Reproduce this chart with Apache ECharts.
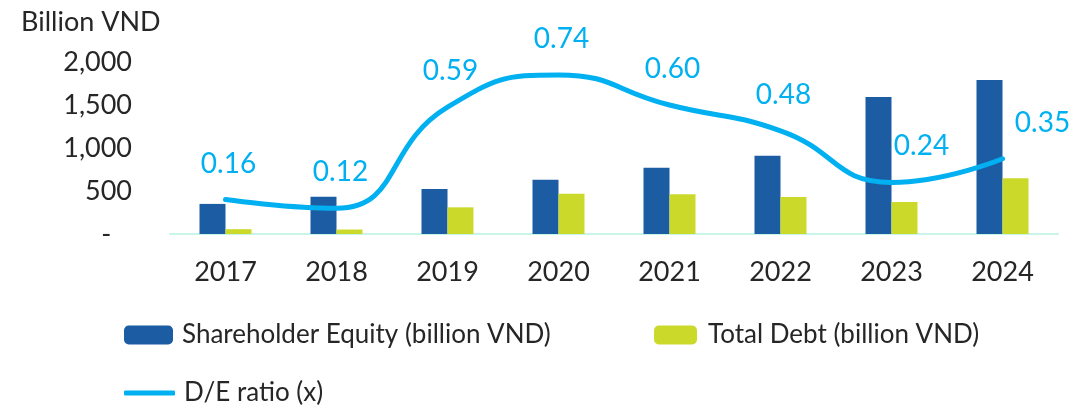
<!DOCTYPE html>
<html>
<head>
<meta charset="utf-8">
<script src="https://cdn.jsdelivr.net/npm/echarts@6/dist/echarts.min.js"></script>
<style>
  html, body { margin: 0; padding: 0; background: #fff; }
  #chart { width: 1071px; height: 409px; }
</style>
</head>
<body>
<div id="chart"></div>
<script>
var years = ['2017', '2018', '2019', '2020', '2021', '2022', '2023', '2024'];
var equity = [350, 434, 523, 631, 771, 910, 1593, 1791];
var debt = [56, 52, 310, 469, 462, 430, 372, 648];
var deRatio = [0.16, 0.12, 0.59, 0.74, 0.60, 0.48, 0.24, 0.35];

var FONT = 'Lato';
var chart = echarts.init(document.getElementById('chart'));

// label nudges for the ratio line (last two sit to the right of the point)
var labelDx = [3, 4, 3, 3, 3, 3, 30, 40];
var ratioData = deRatio.map(function (v, i) {
  return { value: v, label: { offset: [labelDx[i], 0] } };
});

chart.setOption({
  animation: false,
  textStyle: { fontFamily: FONT },
  title: {
    text: 'Billion VND',
    left: 16, top: 4,
    textStyle: { fontFamily: FONT, fontSize: 27, fontWeight: 'normal', color: '#262626' }
  },
  legend: [
    {
      data: ['Shareholder Equity (billion VND)'],
      left: 119, top: 317,
      itemWidth: 49, itemHeight: 19, itemGap: 20,
      textStyle: { fontFamily: FONT, fontSize: 26, color: '#262626', padding: [0, 0, 0, 4] }
    },
    {
      data: ['Total Debt (billion VND)'],
      left: 649, top: 317,
      itemWidth: 43, itemHeight: 19,
      textStyle: { fontFamily: FONT, fontSize: 26, color: '#262626', padding: [0, 0, 0, 6] }
    },
    {
      data: [{ name: 'D/E ratio (x)', icon: 'roundRect' }],
      left: 119, top: 375,
      itemWidth: 51, itemHeight: 5,
      textStyle: { fontFamily: FONT, fontSize: 26, color: '#262626', padding: [0, 0, 0, 4] }
    }
  ],
  grid: { left: 170, right: 13, top: 62, bottom: 175 },
  xAxis: {
    type: 'category',
    data: years,
    axisLine: { lineStyle: { color: '#c8f5e8', width: 2 } },
    axisTick: { show: false },
    axisLabel: { fontFamily: FONT, fontSize: 27, color: '#262626', margin: 25 }
  },
  yAxis: [
    {
      type: 'value', min: 0, max: 2000, interval: 500,
      axisLine: { show: false }, axisTick: { show: false }, splitLine: { show: false },
      axisLabel: {
        fontFamily: FONT, fontSize: 27, color: '#262626', margin: 38,
        formatter: function (v) { return v === 0 ? '-   ' : v.toLocaleString('en-US'); }
      }
    },
    {
      type: 'value', min: 0, max: 0.8, show: false, splitLine: { show: false }
    }
  ],
  series: [
    {
      name: 'Shareholder Equity (billion VND)',
      type: 'bar', data: equity, barWidth: 26, barGap: '0%',
      itemStyle: { color: '#1b5ca3' }
    },
    {
      name: 'Total Debt (billion VND)',
      type: 'bar', data: debt, barWidth: 26, barGap: '0%',
      itemStyle: { color: '#cbda2a' }
    },
    {
      name: 'D/E ratio (x)',
      type: 'line', yAxisIndex: 1, data: ratioData,
      smooth: 0.5, showSymbol: true, symbol: 'circle', symbolSize: 0,
      lineStyle: { color: '#00b0f0', width: 5, cap: 'round' },
      itemStyle: { color: '#00b0f0' },
      label: {
        show: true, position: 'top', distance: 22,
        fontFamily: FONT, fontSize: 28, color: '#00b0f0',
        formatter: function (p) { return p.value.toFixed(2); }
      },
      z: 5
    }
  ]
});
</script>
</body>
</html>
